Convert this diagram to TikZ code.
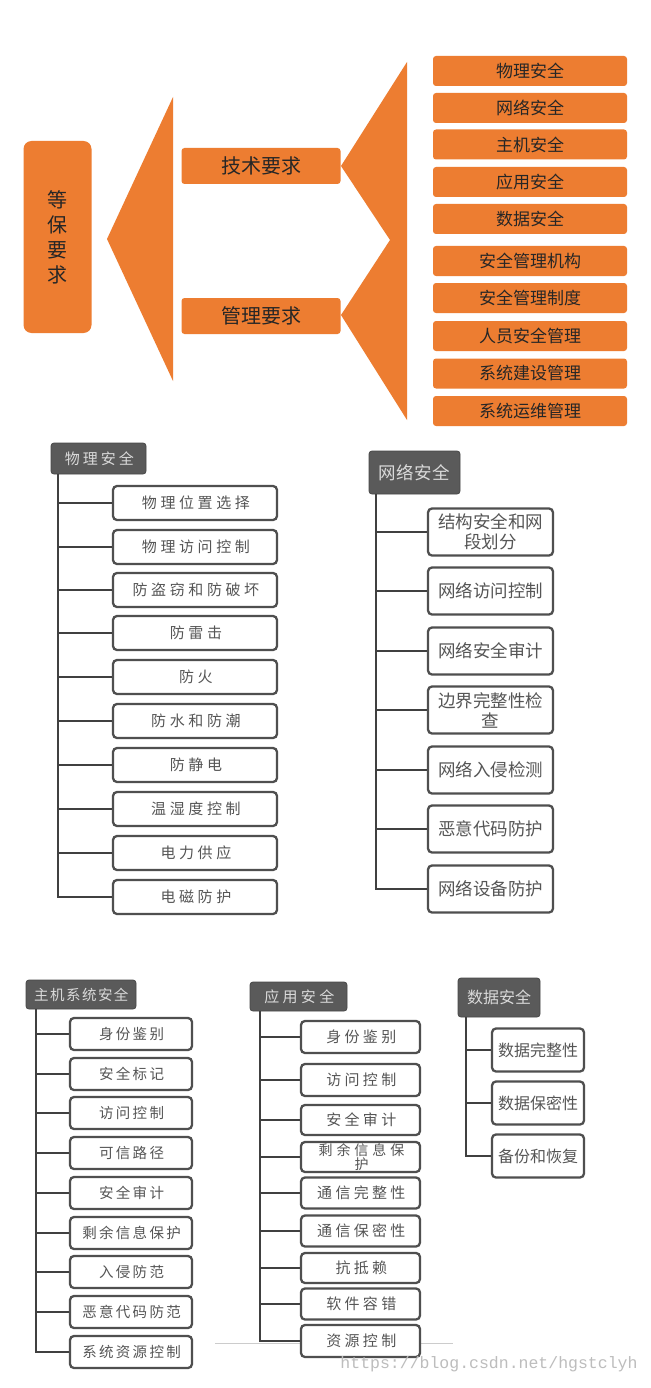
\documentclass[tikz,border=0pt]{standalone}
\usepackage{fontspec}
\newfontfamily\cjk{Noto Sans CJK SC}
\newfontfamily\wmfont{Liberation Mono}
\definecolor{orng}{HTML}{ED7D31}
\definecolor{otxt}{HTML}{262626}
\definecolor{hdr}{HTML}{5A5A5A}
\definecolor{hdrtxt}{HTML}{DADADA}
\definecolor{cbord}{HTML}{4F4F4F}
\definecolor{ctxt}{HTML}{555555}
\definecolor{conn}{HTML}{404040}
\definecolor{wm}{HTML}{BDBDBD}
\newcommand{\lsfont}[2]{\cjk\fontsize{#1}{#1}\selectfont\addfontfeature{LetterSpace=#2}}
\tikzset{
  obox/.style={fill=orng, rounded corners=3pt, inner sep=0pt, text=otxt, align=center},
  hbox/.style={fill=hdr, draw=hdr!80!black, line width=0.8pt, rounded corners=3pt, inner sep=0pt, text=hdrtxt, align=center},
  cbox/.style={draw=cbord, fill=white, line width=2.3pt, rounded corners=4pt, inner sep=0pt, text=ctxt, align=center},
  connl/.style={draw=conn, line width=2.8pt},
  lead/.style={execute at begin node={\hspace*{#1pt}}},
}
\begin{document}
\begin{tikzpicture}[x=1pt,y=-1pt]
\useasboundingbox (0,0) rectangle (650,1388);
\fill[white] (0,0) rectangle (650,1388);
% ---------------- footer line (behind)
\coordinate (fl) at (215,1343);
\coordinate (fr) at (453,1343);
\draw[draw=black!20, line width=0.8pt] (fl) -- (fr);
% ---------------- top orange part
\node[obox, rounded corners=8pt, minimum width=68, minimum height=192, font=\cjk\fontsize{20}{25}\selectfont] (root) at (57.5,237) {等\\保\\要\\求};
\fill[orng] (107,239) -- (173,97) -- (173,381) -- cycle;
\node[obox, minimum width=159, minimum height=36, font=\cjk\fontsize{20}{24}\selectfont] (tech) at (261,166) {技术要求};
\node[obox, minimum width=159, minimum height=36, font=\cjk\fontsize{20}{24}\selectfont] (mgmt) at (261,316) {管理要求};
\fill[orng] (407,62) -- (341,166) -- (390,240) -- (341,315) -- (407,420) -- cycle;
\tikzset{rbox/.style={obox, minimum width=194, minimum height=30, font=\cjk\fontsize{17}{20}\selectfont}}
\node[rbox] (r1) at (530,71) {物理安全};
\node[rbox] (r2) at (530,108) {网络安全};
\node[rbox] (r3) at (530,144.5) {主机安全};
\node[rbox] (r4) at (530,182) {应用安全};
\node[rbox] (r5) at (530,219) {数据安全};
\node[rbox] (r6) at (530,261) {安全管理机构};
\node[rbox] (r7) at (530,298) {安全管理制度};
\node[rbox] (r8) at (530,336) {人员安全管理};
\node[rbox] (r9) at (530,373.5) {系统建设管理};
\node[rbox] (r10) at (530,411) {系统运维管理};
% ---------------- 物理安全
\node[hbox, minimum width=95, minimum height=31, font=\lsfont{15}{20}, lead=1.5] (ph) at (98.5,458.5) {物理安全};
\coordinate (pv) at (58,474);
\tikzset{pbox/.style={cbox, minimum width=164, minimum height=34, font=\lsfont{15}{24}, lead=1.8}}
\node[pbox] (p1) at (195,503) {物理位置选择};
\node[pbox] (p2) at (195,547) {物理访问控制};
\node[pbox] (p3) at (195,590) {防盗窃和防破坏};
\node[pbox] (p4) at (195,633) {防雷击};
\node[pbox] (p5) at (195,677) {防火};
\node[pbox] (p6) at (195,721) {防水和防潮};
\node[pbox] (p7) at (195,765) {防静电};
\node[pbox] (p8) at (195,809) {温湿度控制};
\node[pbox] (p9) at (195,853) {电力供应};
\node[pbox] (p10) at (195,897) {电磁防护};
\draw[connl] (pv) |- (p10.west);
\foreach \i in {1,...,9} \draw[connl] (pv |- p\i.west) -- (p\i.west);
% ---------------- 网络安全
\node[hbox, minimum width=91, minimum height=43, font=\lsfont{17.5}{3}] (nh) at (414.5,472.5) {网络安全};
\coordinate (nv) at (376,494);
\tikzset{nbox/.style={cbox, minimum width=125, minimum height=47, font=\cjk\fontsize{17.5}{20}\selectfont}}
\node[nbox] (n1) at (490.5,532) {结构安全和网\\段划分};
\node[nbox] (n2) at (490.5,591) {网络访问控制};
\node[nbox] (n3) at (490.5,651) {网络安全审计};
\node[nbox] (n4) at (490.5,710) {边界完整性检\\查};
\node[nbox] (n5) at (490.5,770) {网络入侵检测};
\node[nbox] (n6) at (490.5,829) {恶意代码防护};
\node[nbox] (n7) at (490.5,889) {网络设备防护};
\draw[connl] (nv) |- (n7.west);
\foreach \i in {1,...,6} \draw[connl] (nv |- n\i.west) -- (n\i.west);
% ---------------- 主机系统安全
\node[hbox, minimum width=110, minimum height=29, font=\lsfont{14.5}{10}, lead=0.7] (hh) at (81,994.5) {主机系统安全};
\coordinate (hv) at (36,1009);
\tikzset{hcb/.style={cbox, minimum width=122, minimum height=32, font=\lsfont{14.5}{16}, lead=1.2}}
\node[hcb] (h1) at (131,1034) {身份鉴别};
\node[hcb] (h2) at (131,1074) {安全标记};
\node[hcb] (h3) at (131,1113) {访问控制};
\node[hcb] (h4) at (131,1153) {可信路径};
\node[hcb] (h5) at (131,1193) {安全审计};
\node[hcb] (h6) at (131,1233) {剩余信息保护};
\node[hcb] (h7) at (131,1272) {入侵防范};
\node[hcb] (h8) at (131,1312) {恶意代码防范};
\node[hcb] (h9) at (131,1352) {系统资源控制};
\draw[connl] (hv) |- (h9.west);
\foreach \i in {1,...,8} \draw[connl] (hv |- h\i.west) -- (h\i.west);
% ---------------- 应用安全
\node[hbox, minimum width=97, minimum height=29, font=\lsfont{15}{22}, lead=1.6] (ah) at (298.5,996.5) {应用安全};
\coordinate (av) at (260,1011);
\tikzset{acb/.style={cbox, minimum width=119, minimum height=32, font=\lsfont{15}{22}, lead=1.6}}
\node[acb] (a1) at (360.5,1037) {身份鉴别};
\node[acb] (a2) at (360.5,1080) {访问控制};
\node[acb, minimum height=30] (a3) at (360.5,1120) {安全审计};
\node[cbox, minimum width=119, minimum height=30, font={\cjk\fontsize{14}{12.5}\selectfont\addfontfeature{LetterSpace=28}}] (a4) at (360.5,1157) {\hspace*{2pt}剩余信息保\\\hspace*{2pt}护};
\node[acb, minimum height=31] (a5) at (360.5,1193) {通信完整性};
\node[acb, minimum height=31] (a6) at (360.5,1231) {通信保密性};
\node[acb, minimum height=30] (a7) at (360.5,1268) {抗抵赖};
\node[acb, minimum height=31] (a8) at (360.5,1304) {软件容错};
\node[acb] (a9) at (360.5,1341) {资源控制};
\draw[connl] (av) |- (a9.west);
\foreach \i in {1,...,8} \draw[connl] (av |- a\i.west) -- (a\i.west);
% ---------------- 数据安全
\node[hbox, minimum width=82, minimum height=39, font=\cjk\fontsize{16}{19}\selectfont] (dh) at (499,997.5) {数据安全};
\coordinate (dv) at (466,1017);
\tikzset{dcb/.style={cbox, minimum width=92, minimum height=43, font=\cjk\fontsize{16}{19}\selectfont}}
\node[dcb] (d1) at (538,1050) {数据完整性};
\node[dcb] (d2) at (538,1103) {数据保密性};
\node[dcb] (d3) at (538,1156) {备份和恢复};
\draw[connl] (dv) |- (d3.west);
\foreach \i in {1,2} \draw[connl] (dv |- d\i.west) -- (d\i.west);
% ---------------- watermark
\node[text=wm, font=\wmfont\fontsize{16.5}{18}\selectfont, inner sep=0pt] (wmk) at (489,1364) {https://blog.csdn.net/hgstclyh};
\end{tikzpicture}
\end{document}
